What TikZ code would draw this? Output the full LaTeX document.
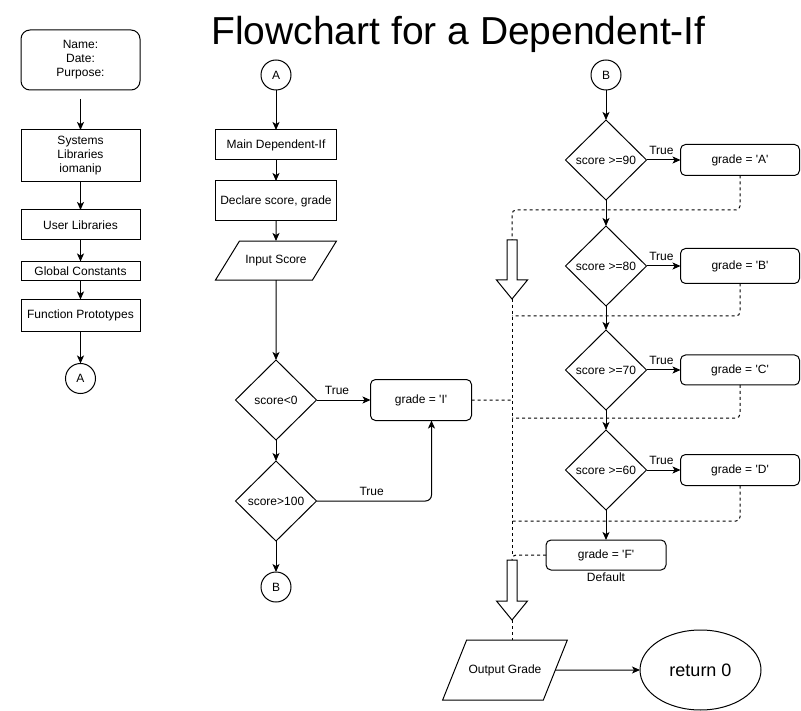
\documentclass[tikz,border=0pt]{standalone}
\usepackage{fontspec}
\setmainfont{Liberation Sans}[Ligatures=TeXOff]
\usetikzlibrary{positioning,shapes.geometric,arrows.meta}

\begin{document}
\begin{tikzpicture}[x=1pt, y=-1pt,
			font=\fontsize{12}{14}\selectfont,
			procbox/.style={rectangle, draw, line width=1pt, outer sep=0pt, minimum width=119pt, align=center, inner sep=2pt},
			roundbox/.style={procbox, rounded corners=5pt},
			decision/.style={diamond, draw, line width=1pt, outer sep=0pt, minimum width=81pt, minimum height=80pt, inner sep=0pt},
			connector/.style={circle, draw, line width=1pt, outer sep=0pt, minimum size=30pt, inner sep=0pt},
			iobox/.style={trapezium, trapezium stretches body=true, draw, line width=1pt, outer sep=0pt, inner xsep=2pt, text height=9pt, text depth=3pt},
			flow/.style={draw, line width=1pt, -{Stealth[length=8pt,width=7pt,inset=2pt]}},
			link/.style={draw, line width=1pt, dash pattern=on 3pt off 3pt, rounded corners=4pt},
			truelabel/.style={inner sep=1pt, above=4pt},
			]
			\useasboundingbox (0,0) rectangle (801,711);
			%Title
			\node[anchor=base, font=\fontsize{39}{47}\selectfont] (title) at (458.5,45) {Flowchart for a Dependent-If};

			%Left column
			\node[roundbox, rounded corners=9pt, minimum height=60pt] (head) at (80.5,60) {Name:\\Date:\\Purpose:};
			\node[procbox, minimum height=52pt] (syslib)    [below=40pt of head]    {Systems\\Libraries\\iomanip};
			\node[procbox, minimum height=30pt] (userlib)   [below=28pt of syslib]  {User Libraries};
			\node[procbox, minimum height=19pt] (globconst) [below=21.5pt of userlib] {Global Constants};
			\node[procbox, minimum height=32pt] (funcproto) [below=19pt of globconst] {Function Prototypes};
			\node[connector] (conA1) [below=32pt of funcproto] {A};

			%Middle column
			\node[connector] (conA2) at (276,75) {A};
			\node[procbox, minimum width=121pt, minimum height=30pt] (mainif)  [below=40pt of conA2]  {Main Dependent-If};
			\node[procbox, minimum width=121pt, minimum height=40pt] (declare) [below=21pt of mainif] {Declare score, grade};
			\node[iobox, trapezium left angle=58.4, trapezium right angle=121.6, minimum width=121pt, inner ysep=13.5pt] (input) [below=20pt of declare] {Input Score};
			\node[decision] (d0)   [below=80pt of input] {score<0};
			\node[decision] (d100) [below=21pt of d0]    {score>100};
			\node[connector] (conB1) [below=31pt of d100] {B};
			\node[roundbox, minimum width=101pt, minimum height=41pt] (gI) [right=54pt of d0] {grade = 'I'};

			%Right column
			\node[connector] (conB2) at (606,75) {B};
			\node[decision] (d90) [below=30pt of conB2] {score >=90};
			\node[decision] (d80) [below=26pt of d90]   {score >=80};
			\node[decision] (d70) [below=24pt of d80]   {score >=70};
			\node[decision] (d60) [below=20pt of d70]   {score >=60};
			\node[roundbox, minimum height=31pt] (gA) [right=34pt of d90] {grade = 'A'};
			\node[roundbox, minimum height=35pt] (gB) [right=34pt of d80] {grade = 'B'};
			\node[roundbox, minimum height=30pt] (gC) [right=34pt of d70] {grade = 'C'};
			\node[roundbox, minimum height=31pt] (gD) [right=34pt of d60] {grade = 'D'};
			\node[roundbox, minimum width=120pt, minimum height=30pt] (gF) [below=30pt of d60] {grade = 'F'};
			\node[inner sep=1pt] (default) [below=2pt of gF] {Default};

			%Bottom
			\node[iobox, trapezium left angle=68.2, trapezium right angle=111.8, minimum width=120pt, inner ysep=24pt] (output) at (505,670) {Output Grade};
			\node[ellipse, draw, line width=1pt, outer sep=0pt, minimum width=121pt, minimum height=80pt, font=\fontsize{18}{22}\selectfont] (ret) at (700.5,670) {return 0};

			%Block arrows
			\coordinate (arr1top) at (512,240);
			\coordinate (arr1tip) at (512,299);
			\coordinate (arr2top) at (512,560);
			\coordinate (arr2tip) at (512,620);
			\draw[line width=1pt, fill=white] (507,240) -- (517,240) -- (517,280) -- (527.5,280) -- (arr1tip) -- (496.5,280) -- (507,280) -- cycle;
			\draw[line width=1pt, fill=white] (507,560) -- (517,560) -- (517,601) -- (527.5,601) -- (arr2tip) -- (496.5,601) -- (507,601) -- cycle;

			%Merge points
			\coordinate (mergeA) at (512,210);
			\coordinate (mergeB) at (512,316);
			\coordinate (mergeI) at (512,400);
			\coordinate (mergeC) at (512,418);
			\coordinate (mergeD) at (512,521);
			\coordinate (mergeF) at (512,555);

			%Flow lines
			\draw[flow] ([yshift=-9pt]head.south) -- (syslib);
			\draw[flow] (syslib) -- (userlib);
			\draw[flow] (userlib) -- (globconst);
			\draw[flow] (globconst) -- (funcproto);
			\draw[flow] (funcproto) -- (conA1);

			\draw[flow] (conA2) -- (mainif);
			\draw[flow] (mainif) -- (declare);
			\draw[flow] (declare) -- (input);
			\draw[flow] (input) -- (d0);
			\draw[flow] (d0) -- (d100);
			\draw[flow] (d100) -- (conB1);
			\draw[flow] (d0.east) -- node[truelabel, pos=0.38] {True} (d0.east -| gI.west);
			\draw[flow, rounded corners=6pt] (d100.east) -| node[truelabel, pos=0.24] {True} ([xshift=10.5pt]gI.south);

			\draw[flow] (conB2) -- (d90);
			\draw[flow] (d90) -- (d80);
			\draw[flow] (d80) -- (d70);
			\draw[flow] (d70) -- (d60);
			\draw[flow] (d60) -- (gF);
			\draw[flow] (d90.east) -- node[truelabel, pos=0.44] {True} (gA.west);
			\draw[flow] (d80.east) -- node[truelabel, pos=0.44] {True} (gB.west);
			\draw[flow] (d70.east) -- node[truelabel, pos=0.44] {True} (gC.west);
			\draw[flow] (d60.east) -- node[truelabel, pos=0.44] {True} (gD.west);

			\draw[flow] (output.east) -- (ret.west);

			%Dashed links
			\draw[link] (gA.south) |- (mergeA) -- (arr1top);
			\draw[link] (gB.south) |- (mergeB);
			\draw[link] (gI.east) -- (mergeI);
			\draw[link] (gC.south) |- (mergeC);
			\draw[link] (gD.south) |- (mergeD);
			\draw[link] (arr1tip) -- (mergeF);
			\draw[link] (gF.west) -| (arr2top);
			\draw[link] (arr2tip) -- (arr2tip |- output.north);
		\end{tikzpicture}
\end{document}
